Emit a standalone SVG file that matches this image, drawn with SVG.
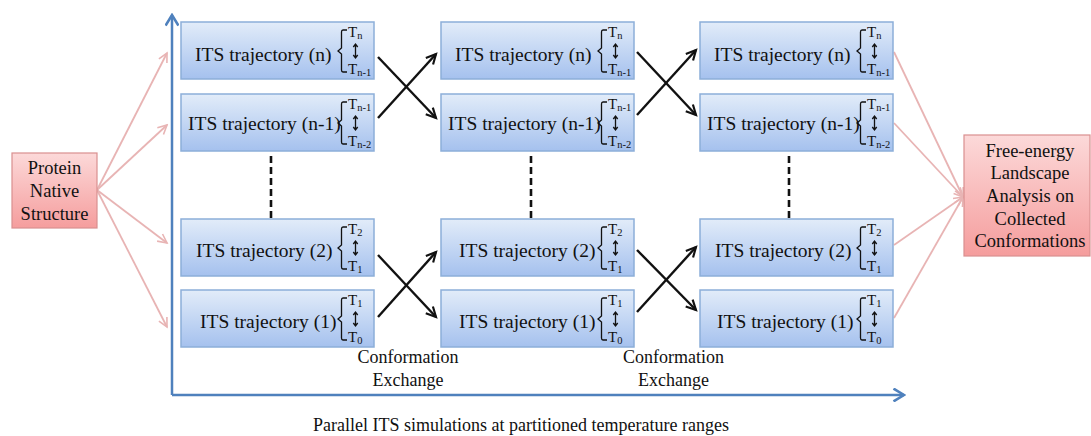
<svg xmlns="http://www.w3.org/2000/svg" xmlns:xlink="http://www.w3.org/1999/xlink" width="1091" height="436" viewBox="0 0 1091 436" font-family="'Liberation Serif', 'DejaVu Serif', 'Times New Roman', serif">
<style>
.box{fill:url(#blue);stroke:#8caed9;stroke-width:1.5}
.pbox{fill:url(#pink);stroke:#d98f8f;stroke-width:1.2}
.lbl{font-size:19.5px;fill:#111}
.t{font-size:15px;fill:#111}
.sub{font-size:10.5px}
.ptxt{font-size:18.5px;fill:#111;text-anchor:middle}
.cap{font-size:18px;fill:#111;text-anchor:middle}
.brace{fill:none;stroke:#111;stroke-width:1.3}
.pink{fill:none;stroke:#e8b4b4;stroke-width:1.8;marker-end:url(#pa)}
.blk{fill:none;stroke:#111;stroke-width:2.4;marker-end:url(#ba)}
.dash{stroke:#111;stroke-width:2.6;stroke-dasharray:7,4}
.axis{fill:none;stroke:#4f81bd;stroke-width:2.5}
</style>
<defs>
<linearGradient id="blue" x1="0" y1="0" x2="0" y2="1">
<stop offset="0" stop-color="#e2ecf9"/>
<stop offset="1" stop-color="#a5c1ee"/>
</linearGradient>
<linearGradient id="pink" x1="0" y1="0" x2="0" y2="1">
<stop offset="0" stop-color="#fcd9d9"/>
<stop offset="1" stop-color="#f59d9d"/>
</linearGradient>
<marker id="pa" markerWidth="12" markerHeight="12" refX="10" refY="5" orient="auto" markerUnits="userSpaceOnUse" viewBox="0 0 12 10">
<path d="M1,0.5 L10,5 L1,9.5" fill="none" stroke="#e8b4b4" stroke-width="1.6"/>
</marker>
<marker id="ba" markerWidth="13" markerHeight="13" refX="10" refY="5" orient="auto" markerUnits="userSpaceOnUse" viewBox="0 0 12 10">
<path d="M1,0.5 L10,5 L1,9.5" fill="none" stroke="#111" stroke-width="2"/>
</marker>
<marker id="aa" markerWidth="14" markerHeight="14" refX="10" refY="6" orient="auto" markerUnits="userSpaceOnUse" viewBox="0 0 12 12">
<path d="M1,0.5 L10,6 L1,11.5" fill="none" stroke="#4f81bd" stroke-width="2.2"/>
</marker>
<g id="bracket">
<path class="brace" d="M166,8 L162,8 Q160.5,8 160.5,10 L160.5,26 L157,29 L160.5,32 L160.5,48 Q160.5,50 162,50 L166,50"/>
<path class="brace" d="M174.5,22 V36 M172.3,25 L174.5,22 L176.7,25 M172.3,33 L174.5,36 L176.7,33" stroke-width="1"/>
</g>
</defs>

<g id="axes">
<path class="axis" d="M172,395 V15" marker-end="url(#aa)"/>
<path class="axis" d="M172,395 H904" marker-end="url(#aa)"/>
</g>

<g id="connectors">
<path class="pink" d="M97,190 L167,53"/>
<path class="pink" d="M97,190 L167,125"/>
<path class="pink" d="M97,190 L167,243"/>
<path class="pink" d="M97,190 L167,327"/>
<path class="pink" d="M894,52 L963,197"/>
<path class="pink" d="M894,123 L963,197"/>
<path class="pink" d="M894,245 L963,197"/>
<path class="pink" d="M894,318 L963,197"/>
<path class="blk" d="M378,57 L436,118"/>
<path class="blk" d="M378,118 L436,54"/>
<path class="blk" d="M637,52 L696,115"/>
<path class="blk" d="M637,115 L696,50"/>
<path class="blk" d="M378,255 L436,317"/>
<path class="blk" d="M378,317 L436,252"/>
<path class="blk" d="M637,250 L696,310"/>
<path class="blk" d="M637,312 L696,247"/>
<line class="dash" x1="271" y1="156" x2="271" y2="218"/>
<line class="dash" x1="531" y1="156" x2="531" y2="218"/>
<line class="dash" x1="789" y1="156" x2="789" y2="218"/>
</g>

<g id="protein">
<rect class="pbox" x="12" y="153" width="85" height="75"/>
<text class="ptxt" x="54.5" y="174">Protein</text>
<text class="ptxt" x="54.5" y="197">Native</text>
<text class="ptxt" x="54.5" y="220">Structure</text>
</g>

<g id="freeenergy">
<rect class="pbox" x="964" y="135" width="126" height="121"/>
<text class="ptxt" x="1030" y="157">Free-energy</text>
<text class="ptxt" x="1030" y="179">Landscape</text>
<text class="ptxt" x="1030" y="202">Analysis on</text>
<text class="ptxt" x="1030" y="225">Collected</text>
<text class="ptxt" x="1030" y="247">Conformations</text>
</g>

<!-- column 1 -->
<g id="c1n" transform="translate(181,22)">
<rect class="box" x="0" y="0" width="193" height="57"/>
<text class="lbl" x="14" y="39">ITS trajectory (n)</text>
<use xlink:href="#bracket"/>
<text class="t" x="167" y="15">T<tspan class="sub" dy="2">n</tspan></text>
<text class="t" x="167" y="52">T<tspan class="sub" dy="2">n-1</tspan></text>
</g>
<g id="c1n1" transform="translate(181,94)">
<rect class="box" x="0" y="0" width="193" height="57"/>
<text class="lbl" x="7" y="36">ITS trajectory (n-1)</text>
<use xlink:href="#bracket"/>
<text class="t" x="167" y="15">T<tspan class="sub" dy="2">n-1</tspan></text>
<text class="t" x="167" y="52">T<tspan class="sub" dy="2">n-2</tspan></text>
</g>
<g id="c12" transform="translate(181,219)">
<rect class="box" x="0" y="0" width="193" height="57"/>
<text class="lbl" x="15" y="38">ITS trajectory (2)</text>
<use xlink:href="#bracket"/>
<text class="t" x="167" y="15">T<tspan class="sub" dy="2">2</tspan></text>
<text class="t" x="167" y="52">T<tspan class="sub" dy="2">1</tspan></text>
</g>
<g id="c11" transform="translate(181,290)">
<rect class="box" x="0" y="0" width="193" height="57"/>
<text class="lbl" x="19" y="38">ITS trajectory (1)</text>
<use xlink:href="#bracket"/>
<text class="t" x="167" y="15">T<tspan class="sub" dy="2">1</tspan></text>
<text class="t" x="167" y="52">T<tspan class="sub" dy="2">0</tspan></text>
</g>

<!-- column 2 -->
<g id="c2n" transform="translate(441,22)">
<rect class="box" x="0" y="0" width="193" height="57"/>
<text class="lbl" x="14" y="39">ITS trajectory (n)</text>
<use xlink:href="#bracket"/>
<text class="t" x="167" y="15">T<tspan class="sub" dy="2">n</tspan></text>
<text class="t" x="167" y="52">T<tspan class="sub" dy="2">n-1</tspan></text>
</g>
<g id="c2n1" transform="translate(441,94)">
<rect class="box" x="0" y="0" width="193" height="57"/>
<text class="lbl" x="7" y="36">ITS trajectory (n-1)</text>
<use xlink:href="#bracket"/>
<text class="t" x="167" y="15">T<tspan class="sub" dy="2">n-1</tspan></text>
<text class="t" x="167" y="52">T<tspan class="sub" dy="2">n-2</tspan></text>
</g>
<g id="c22" transform="translate(441,219)">
<rect class="box" x="0" y="0" width="193" height="57"/>
<text class="lbl" x="18" y="38">ITS trajectory (2)</text>
<use xlink:href="#bracket"/>
<text class="t" x="167" y="15">T<tspan class="sub" dy="2">2</tspan></text>
<text class="t" x="167" y="52">T<tspan class="sub" dy="2">1</tspan></text>
</g>
<g id="c21" transform="translate(441,290)">
<rect class="box" x="0" y="0" width="193" height="57"/>
<text class="lbl" x="18" y="38">ITS trajectory (1)</text>
<use xlink:href="#bracket"/>
<text class="t" x="167" y="15">T<tspan class="sub" dy="2">1</tspan></text>
<text class="t" x="167" y="52">T<tspan class="sub" dy="2">0</tspan></text>
</g>

<!-- column 3 -->
<g id="c3n" transform="translate(700,22)">
<rect class="box" x="0" y="0" width="193" height="57"/>
<text class="lbl" x="14" y="39">ITS trajectory (n)</text>
<use xlink:href="#bracket"/>
<text class="t" x="167" y="15">T<tspan class="sub" dy="2">n</tspan></text>
<text class="t" x="167" y="52">T<tspan class="sub" dy="2">n-1</tspan></text>
</g>
<g id="c3n1" transform="translate(700,94)">
<rect class="box" x="0" y="0" width="193" height="57"/>
<text class="lbl" x="7" y="36">ITS trajectory (n-1)</text>
<use xlink:href="#bracket"/>
<text class="t" x="167" y="15">T<tspan class="sub" dy="2">n-1</tspan></text>
<text class="t" x="167" y="52">T<tspan class="sub" dy="2">n-2</tspan></text>
</g>
<g id="c32" transform="translate(700,219)">
<rect class="box" x="0" y="0" width="193" height="57"/>
<text class="lbl" x="15" y="38">ITS trajectory (2)</text>
<use xlink:href="#bracket"/>
<text class="t" x="167" y="15">T<tspan class="sub" dy="2">2</tspan></text>
<text class="t" x="167" y="52">T<tspan class="sub" dy="2">1</tspan></text>
</g>
<g id="c31" transform="translate(700,290)">
<rect class="box" x="0" y="0" width="193" height="57"/>
<text class="lbl" x="17" y="38">ITS trajectory (1)</text>
<use xlink:href="#bracket"/>
<text class="t" x="167" y="15">T<tspan class="sub" dy="2">1</tspan></text>
<text class="t" x="167" y="52">T<tspan class="sub" dy="2">0</tspan></text>
</g>

<g id="labels">
<text class="cap" x="408" y="363" font-size="19">Conformation</text>
<text class="cap" x="408" y="386" font-size="19">Exchange</text>
<text class="cap" x="673.5" y="363" font-size="19">Conformation</text>
<text class="cap" x="673.5" y="386" font-size="19">Exchange</text>
<text class="cap" x="521" y="431">Parallel ITS simulations at partitioned temperature ranges</text>
</g>
</svg>
